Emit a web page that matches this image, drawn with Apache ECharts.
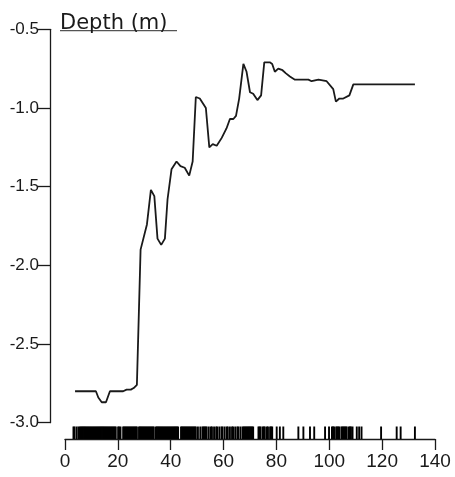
<!DOCTYPE html>
<html>
<head>
<meta charset="utf-8">
<script src="https://cdn.jsdelivr.net/npm/echarts@6/dist/echarts.min.js"></script>
<style>
  html, body { margin: 0; padding: 0; background: #fff; }
  #main { width: 455px; height: 477px; }
</style>
</head>
<body>
<div id="main"></div>
<script>
// depth profile (x, depth in m)
var lineX = [3.8, 11.7, 12.6, 13.9, 15.5, 17.0, 22.0, 23.3, 24.9, 26.0, 27.2, 28.6, 31.0, 32.5, 33.8, 35.0,
  36.4, 37.8, 38.8, 40.3, 42.2, 43.7, 45.3, 47.0, 48.3, 49.5, 51.0, 53.3, 54.6, 55.9, 57.4, 59.3,
  61.1, 62.4, 63.7, 64.7, 65.9, 67.5, 68.7, 70.0, 71.2, 72.8, 74.2, 75.4, 77.5, 78.4, 79.4, 80.7,
  82.3, 83.6, 85.1, 87.0, 88.9, 92.1, 93.3, 95.9, 99.0, 101.5, 102.5, 103.8, 105.3, 107.6, 109.1, 132.4];
var lineDepth = [-2.80, -2.80, -2.84, -2.87, -2.87, -2.80, -2.80, -2.79, -2.79, -2.78, -2.76, -1.90, -1.74, -1.52, -1.56, -1.83,
  -1.87, -1.83, -1.58, -1.39, -1.34, -1.37, -1.38, -1.43, -1.34, -0.93, -0.94, -1.00, -1.25, -1.23, -1.24, -1.19,
  -1.13, -1.07, -1.07, -1.05, -0.94, -0.72, -0.77, -0.90, -0.91, -0.95, -0.92, -0.71, -0.71, -0.72, -0.77, -0.75,
  -0.76, -0.78, -0.80, -0.82, -0.82, -0.82, -0.83, -0.82, -0.83, -0.88, -0.96, -0.94, -0.94, -0.92, -0.85, -0.85];

// rug marks along the x axis
var rugX = [3.2, 3.6, 4.4, 5.1, 5.6, 6.0, 6.4, 6.8, 7.2, 7.6, 8.0, 8.4, 8.8, 9.2, 9.6, 10.0, 10.4, 10.8, 11.2, 11.6,
  12.0, 12.4, 12.8, 13.2, 13.6, 14.0, 14.4, 14.8, 15.2, 15.6, 16.0, 16.4, 16.8, 17.2, 17.6, 18.0, 18.4, 18.8, 19.2,
  20.1, 20.5, 21.0, 22.0, 22.4, 22.8, 23.2, 23.6, 24.0, 24.4, 24.8, 25.2, 25.6, 26.0, 26.4, 26.8, 27.2, 28.0, 28.4,
  28.8, 29.2, 29.6, 30.0, 30.4, 30.8, 31.2, 31.6, 32.0, 32.4, 32.8, 33.2, 33.6, 34.4, 34.8, 35.2, 35.6, 36.0, 36.4,
  36.8, 37.2, 37.6, 38.0, 38.4, 38.8, 39.2, 39.6, 40.0, 40.4, 40.8, 41.2, 41.6, 42.0, 42.4, 42.8, 43.9, 44.3, 44.7,
  45.1, 45.5, 45.9, 46.3, 46.7, 47.1, 47.5, 47.9, 48.3, 48.7, 49.1, 49.5, 50.3, 51.2, 52.0, 52.4, 52.8, 53.2, 53.6,
  54.4, 55.2, 55.6, 56.4, 57.2, 57.6, 58.4, 59.2, 59.6, 60.4, 61.2, 61.6, 62.4, 63.2, 63.6, 64.4, 65.2, 65.6, 66.4,
  67.2, 67.6, 68.0, 68.4, 68.8, 69.2, 69.6, 70.0, 70.4, 70.8, 71.2, 73.2, 73.6, 74.0, 74.8, 75.2, 75.6, 76.4, 76.8,
  77.6, 78.0, 78.4, 80.1, 81.3, 82.6, 88.3, 90.2, 92.7, 94.3, 98.4, 99.9, 101.0, 101.4, 101.8, 102.6, 103.0, 103.4,
  103.8, 104.6, 105.0, 105.4, 105.8, 106.2, 106.6, 107.4, 107.8, 108.2, 108.8, 110.4, 111.3, 112.2, 119.6, 125.5,
  127.0, 132.4];

var ink = '#1a1a1a';
var chart = echarts.init(document.getElementById('main'));

chart.setOption({
  backgroundColor: '#fff',
  animation: false,
  grid: [
    { left: 65, top: 29.3, width: 370, height: 393.4 },
    { left: 65, top: 426.5, width: 370, height: 12.5 }
  ],
  xAxis: [
    { gridIndex: 0, type: 'value', min: 0, max: 140, show: false },
    {
      gridIndex: 1, type: 'value', min: 0, max: 140, interval: 20,
      axisLine: { onZero: false, lineStyle: { color: ink, width: 1.3 } },
      axisTick: { inside: false, length: 11, lineStyle: { color: ink, width: 1.3 } },
      axisLabel: { margin: 13, fontSize: 19, color: ink, fontFamily: 'Liberation Sans' },
      splitLine: { show: false }
    }
  ],
  yAxis: [
    {
      gridIndex: 0, type: 'value', min: -3, max: -0.5, interval: 0.5, offset: 15,
      name: 'Depth (m)', nameLocation: 'end', nameGap: -5,
      nameTextStyle: {
        fontFamily: 'DejaVu Sans', fontSize: 21, color: ink,
        align: 'left', verticalAlign: 'bottom', padding: [0, 0, 0, 10]
      },
      axisLine: { show: true, onZero: false, lineStyle: { color: ink, width: 1.3 } },
      axisTick: { show: true, inside: false, length: 12, lineStyle: { color: ink, width: 1.3 } },
      axisLabel: {
        margin: 11, fontSize: 17, color: ink, fontFamily: 'Liberation Sans',
        formatter: function (v) { return v.toFixed(1); }
      },
      splitLine: { show: false }
    },
    { gridIndex: 1, type: 'value', min: 0, max: 1, show: false }
  ],
  graphic: [
    // underline of the axis title
    { type: 'line', shape: { x1: 60, y1: 30.7, x2: 177, y2: 30.7 }, style: { stroke: '#555', lineWidth: 1.2 } }
  ],
  series: [
    {
      type: 'line',
      xAxisIndex: 0, yAxisIndex: 0,
      data: lineX.map(function (x, i) { return [x, lineDepth[i]]; }),
      showSymbol: false,
      lineStyle: { color: ink, width: 1.8 },
      silent: true
    },
    {
      type: 'scatter',
      xAxisIndex: 1, yAxisIndex: 1,
      data: rugX.map(function (x) { return [x, 0.5]; }),
      symbol: 'rect',
      symbolSize: [1.9, 12.5],
      itemStyle: { color: '#000', opacity: 1 },
      silent: true
    }
  ]
});
</script>
</body>
</html>
